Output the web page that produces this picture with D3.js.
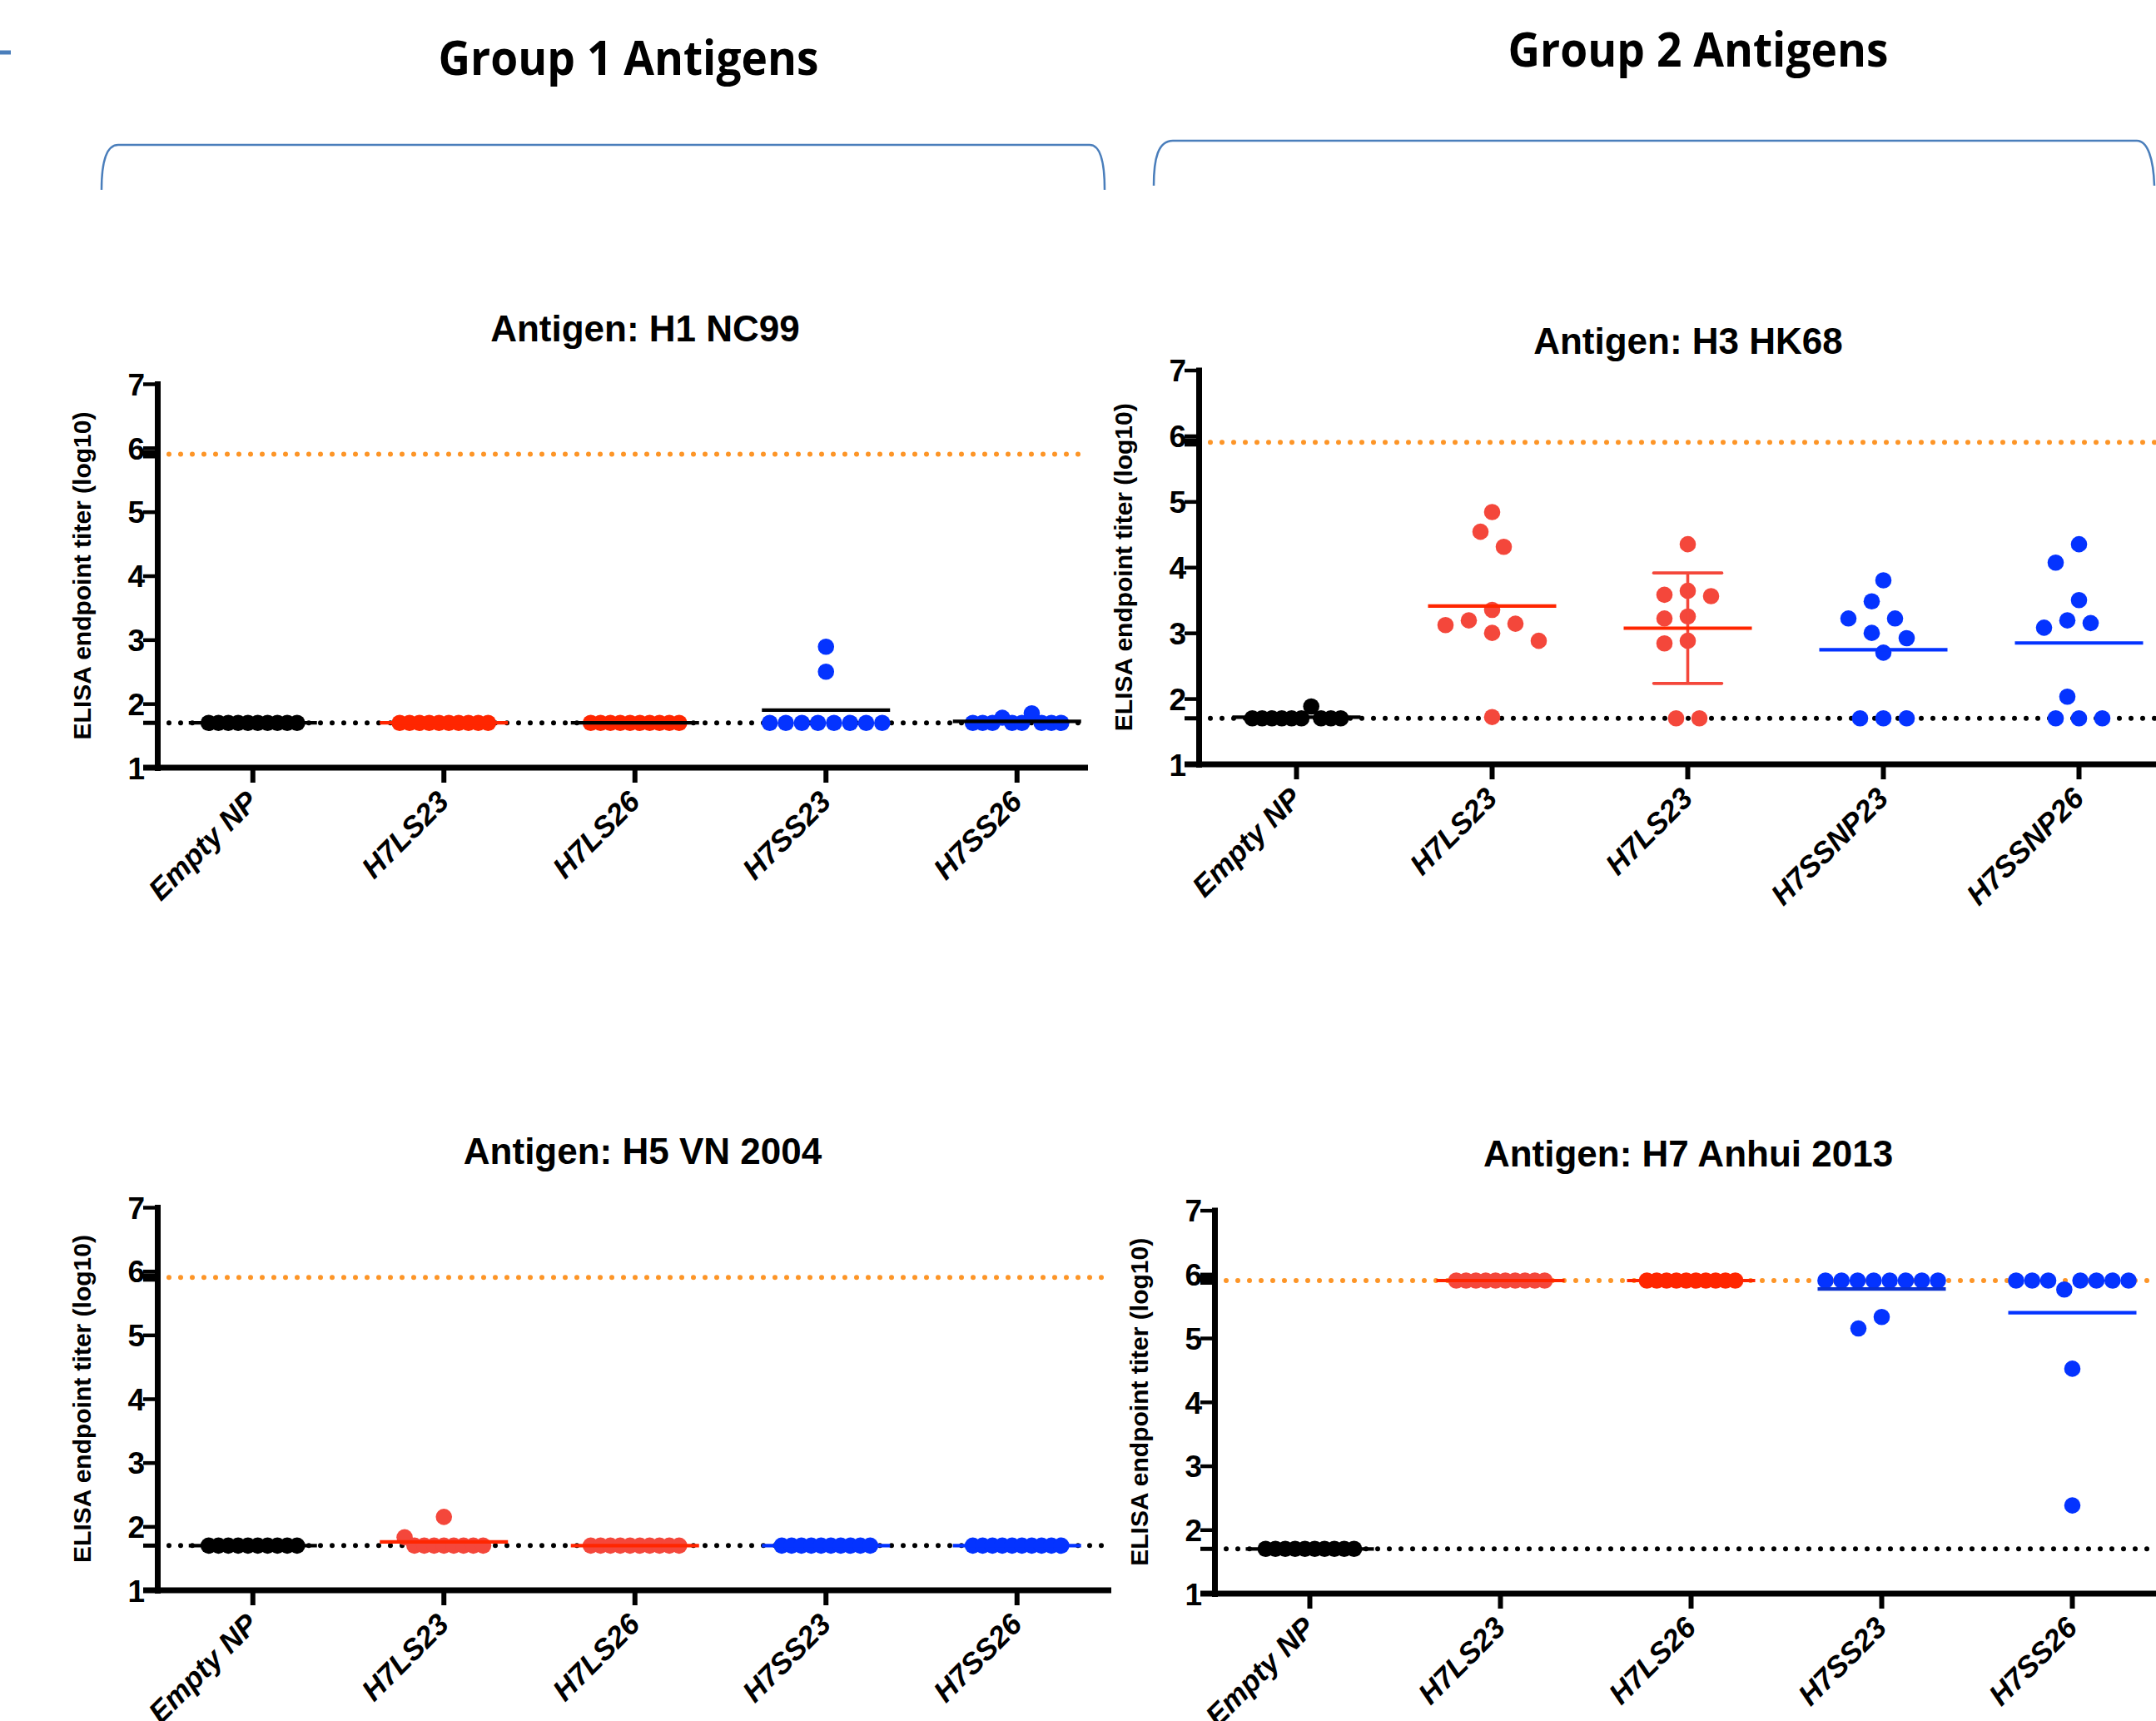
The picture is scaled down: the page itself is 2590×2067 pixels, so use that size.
<!DOCTYPE html>
<html>
<head>
<meta charset="utf-8">
<script src="https://cdn.jsdelivr.net/npm/d3@7"></script>
<style>
  body { margin: 0; background: #fff; }
  svg text { font-family: "Liberation Sans", Arial, sans-serif; font-weight: bold; }
</style>
</head>
<body>
<svg id="chart" width="2590" height="2067"></svg>
<script>
// ---- data (log10 ELISA endpoint titers, 10 mice per group) ----
var lowerLimit = 1.7;   // limit of detection
var upperLimit = 5.9;   // highest dilution tested

var yTicks = [1, 2, 3, 4, 5, 6, 7];

var groupsH1 = ["Empty NP", "H7LS23", "H7LS26", "H7SS23", "H7SS26"];
var groupsH3 = ["Empty NP", "H7LS23", "H7LS23", "H7SSNP23", "H7SSNP26"];
var groupsH5 = ["Empty NP", "H7LS23", "H7LS26", "H7SS23", "H7SS26"];
var groupsH7 = ["Empty NP", "H7LS23", "H7LS26", "H7SS23", "H7SS26"];

var titersH1 = [
    [1.7, 1.7, 1.7, 1.7, 1.7, 1.7, 1.7, 1.7, 1.7, 1.7],
    [1.7, 1.7, 1.7, 1.7, 1.7, 1.7, 1.7, 1.7, 1.7, 1.7],
    [1.7, 1.7, 1.7, 1.7, 1.7, 1.7, 1.7, 1.7, 1.7, 1.7],
    [1.7, 1.7, 1.7, 1.7, 1.7, 1.7, 1.7, 1.7, 2.89, 2.5],
    [1.7, 1.7, 1.7, 1.78, 1.7, 1.7, 1.85, 1.7, 1.7, 1.7]
];
var titersH3 = [
    [1.7, 1.7, 1.7, 1.7, 1.7, 1.7, 1.88, 1.7, 1.7, 1.7],
    [4.84, 4.54, 4.31, 3.35, 3.19, 3.14, 3.12, 3.0, 2.88, 1.72],
    [4.35, 3.64, 3.58, 3.56, 3.25, 3.22, 2.88, 2.84, 1.7, 1.7],
    [3.8, 3.48, 3.22, 3.22, 3.0, 2.92, 2.7, 1.7, 1.7, 1.7],
    [4.35, 4.07, 3.5, 3.19, 3.15, 3.08, 2.03, 1.7, 1.7, 1.7]
];
var titersH5 = [
    [1.7, 1.7, 1.7, 1.7, 1.7, 1.7, 1.7, 1.7, 1.7, 1.7],
    [1.83, 1.7, 1.7, 1.7, 1.7, 1.7, 1.7, 1.7, 1.7, 2.15],
    [1.7, 1.7, 1.7, 1.7, 1.7, 1.7, 1.7, 1.7, 1.7, 1.7],
    [1.7, 1.7, 1.7, 1.7, 1.7, 1.7, 1.7, 1.7, 1.7, 1.7],
    [1.7, 1.7, 1.7, 1.7, 1.7, 1.7, 1.7, 1.7, 1.7, 1.7]
];
var titersH7 = [
    [1.7, 1.7, 1.7, 1.7, 1.7, 1.7, 1.7, 1.7, 1.7, 1.7],
    [5.9, 5.9, 5.9, 5.9, 5.9, 5.9, 5.9, 5.9, 5.9, 5.9],
    [5.9, 5.9, 5.9, 5.9, 5.9, 5.9, 5.9, 5.9, 5.9, 5.9],
    [5.9, 5.9, 5.9, 5.9, 5.9, 5.9, 5.9, 5.9, 5.33, 5.15],
    [5.9, 5.9, 5.9, 5.76, 5.9, 5.9, 5.9, 5.9, 4.52, 2.38]
];

// colours
var black = "#000", red = "#ff2600", tomato = "#f4473b", blue = "#0433ff", orange = "#fd9527";
var bracketBlue = "#4a7ebb";

var svg = d3.select("#chart");
svg.append("rect").attr("width", 2590).attr("height", 2067).attr("fill", "#fff");

// group headings with their brackets
svg.append("line").attr("x1", 0).attr("x2", 13).attr("y1", 63).attr("y2", 63)
    .attr("stroke", bracketBlue).attr("stroke-width", 5);

[["Group 1 Antigens", 755, 90], ["Group 2 Antigens", 2040, 80]].forEach(function (h) {
    svg.append("text").attr("x", h[1]).attr("y", h[2]).attr("text-anchor", "middle")
        .attr("textLength", 457).attr("lengthAdjust", "spacingAndGlyphs")
        .style("font-family", "'Open Sans', Lato, sans-serif").style("font-weight", "700")
        .style("font-size", "57px")
        .text(h[0]);
});

svg.append("path")
    .attr("d", "M122,228 C122,196 127,174 142,174 L1309,174 C1322,174 1327,196 1327,228")
    .attr("fill", "none").attr("stroke", bracketBlue).attr("stroke-width", 2.5);
svg.append("path")
    .attr("d", "M1386,223 C1386,191 1391,169 1409,169 L2567,169 C2580,169 2587,191 2588,223")
    .attr("fill", "none").attr("stroke", bracketBlue).attr("stroke-width", 2.5);

// panel layout (pixel placement of each graph)
var panels = [
    { title: "Antigen: H1 NC99", groups: groupsH1, titers: titersH1,
      dotColours: [black, red, red, blue, blue], meanColours: [black, red, black, black, black],
      sd: [false, false, false, false, false],
      axisX: 189, y7: 461, y1: 922, step: 229.5, xEnd: 1307, titleX: 775, titleY: 410 },
    { title: "Antigen: H3 HK68", groups: groupsH3, titers: titersH3,
      dotColours: [black, tomato, tomato, blue, blue], meanColours: [black, red, red, blue, blue],
      sd: [false, false, true, false, false],
      axisX: 1440, y7: 444.5, y1: 918, step: 235, xEnd: 2600, titleX: 2028, titleY: 425 },
    { title: "Antigen: H5 VN 2004", groups: groupsH5, titers: titersH5,
      dotColours: [black, tomato, tomato, blue, blue], meanColours: [black, red, red, blue, blue],
      sd: [false, false, false, false, false],
      axisX: 189, y7: 1450, y1: 1910, step: 229.5, xEnd: 1335, titleX: 772, titleY: 1398 },
    { title: "Antigen: H7 Anhui 2013", groups: groupsH7, titers: titersH7,
      dotColours: [black, tomato, red, blue, blue], meanColours: [black, red, red, "#0a30d0", blue],
      sd: [false, false, false, false, false],
      axisX: 1459, y7: 1453.6, y1: 1914, step: 229, xEnd: 2600, titleX: 2028, titleY: 1401 }
];

var dotR = 9.8;
var minDist = 27;   // clearance used when stacking scattered points
var halfStep = 14;

// GraphPad style scatter: tied values sit in one row, the rest are stacked around the centre
function rowSpacing(n) {
    if (n <= 3) return 28;
    if (n <= 8) return 19.3;
    return 11.8;   // long rows get squeezed
}

function swarmOffsets(vals, y) {
    var off = new Array(vals.length);
    var placed = [];
    var counts = d3.rollups(vals, function (v) { return v.length; }, function (d) { return d; });
    var mode = d3.greatest(counts, function (c) { return c[1]; });
    if (mode[1] > 1) {
        var row = d3.range(vals.length).filter(function (i) { return Math.abs(vals[i] - mode[0]) <= 0.2; });
        var s = rowSpacing(row.length);
        row.forEach(function (i, k) {
            off[i] = (k - (row.length - 1) / 2) * s;
            placed.push([off[i], y(vals[i])]);
        });
    }
    var rest = d3.range(vals.length)
        .filter(function (i) { return off[i] === undefined; })
        .sort(function (a, b) { return vals[b] - vals[a]; });
    rest.forEach(function (i) {
        var py = y(vals[i]);
        for (var k = 0; k < 40; k++) {
            var dx = (k % 2 ? -1 : 1) * Math.ceil(k / 2) * halfStep;
            var clear = placed.every(function (q) {
                return Math.hypot(q[0] - dx, q[1] - py) >= minDist;
            });
            if (clear) { off[i] = dx; break; }
        }
        placed.push([off[i], py]);
    });
    return off;
}

function drawPanel(p) {
    var g = svg.append("g");
    var y = d3.scaleLinear().domain([1, 7]).range([p.y1, p.y7]);
    var x = d3.scaleBand().domain(d3.range(p.groups.length))
        .range([p.axisX, p.axisX + p.step * p.groups.length]);
    var cx = function (i) { return x(i) + x.bandwidth() / 2; };

    // dotted reference lines
    [[upperLimit, orange], [lowerLimit, black]].forEach(function (r) {
        g.append("line")
            .attr("x1", p.axisX).attr("x2", p.xEnd - 6)
            .attr("y1", y(r[0])).attr("y2", y(r[0]))
            .attr("stroke", r[1]).attr("stroke-width", 6)
            .attr("stroke-dasharray", "0 14").attr("stroke-linecap", "round");
    });

    // x axis
    g.append("line")
        .attr("x1", p.axisX - 17).attr("x2", p.xEnd)
        .attr("y1", y(1)).attr("y2", y(1))
        .attr("stroke", black).attr("stroke-width", 7);

    var gx = g.append("g")
        .attr("transform", "translate(0," + y(1) + ")")
        .call(d3.axisBottom(x).tickSize(18).tickSizeOuter(0)
            .tickFormat(function (i) { return p.groups[i]; }));
    gx.select(".domain").remove();
    gx.selectAll(".tick line").attr("stroke-width", 6);
    gx.selectAll(".tick text")
        .attr("x", null).attr("y", null).attr("dy", null)
        .attr("transform", "translate(8,43) rotate(-45)")
        .style("text-anchor", "end")
        .style("font-size", "35.5px").style("font-style", "italic").style("font-weight", "bold")
        .style("font-family", "'Liberation Sans', Arial, sans-serif");

    // y axis
    var gy = g.append("g")
        .attr("transform", "translate(" + p.axisX + ",0)")
        .call(d3.axisLeft(y).tickValues(yTicks).tickSize(17).tickSizeOuter(0).tickPadding(-2)
            .tickFormat(d3.format("d")));
    gy.attr("font-size", null).attr("font-family", null);
    gy.select(".domain").attr("stroke-width", 7).attr("stroke-linecap", "square");
    gy.selectAll(".tick line").attr("stroke-width", 4.5);
    gy.selectAll(".tick text")
        .attr("dy", "0.36em")
        .style("font-size", "37px").style("font-weight", "bold")
        .style("font-family", "'Liberation Sans', Arial, sans-serif");
    [[upperLimit, 10], [lowerLimit, 5]].forEach(function (r) {
        gy.append("line").attr("x1", -17).attr("x2", 0)
            .attr("y1", y(r[0])).attr("y2", y(r[0]))
            .attr("stroke", black).attr("stroke-width", r[1]);
    });

    g.append("text")
        .attr("transform", "translate(" + (p.axisX - 80) + "," + ((p.y7 + p.y1) / 2) + ") rotate(-90)")
        .attr("text-anchor", "middle")
        .style("font-size", "30px")
        .text("ELISA endpoint titer (log10)");

    // title
    g.append("text")
        .attr("x", p.titleX).attr("y", p.titleY)
        .attr("text-anchor", "middle")
        .style("font-size", "44px")
        .text(p.title);

    // points, means and SD bars
    p.titers.forEach(function (vals, i) {
        var off = swarmOffsets(vals, y);
        g.append("g").selectAll("circle")
            .data(vals)
            .enter().append("circle")
            .attr("cx", function (d, j) { return cx(i) + off[j]; })
            .attr("cy", function (d) { return y(d); })
            .attr("r", dotR)
            .attr("fill", p.dotColours[i]);

        var m = d3.mean(vals);
        if (p.sd[i]) {
            var s = d3.deviation(vals);
            var bar = g.append("g").attr("stroke", tomato).attr("stroke-width", 3.6);
            bar.append("line").attr("x1", cx(i)).attr("x2", cx(i)).attr("y1", y(m - s)).attr("y2", y(m + s));
            [m - s, m + s].forEach(function (v) {
                bar.append("line").attr("x1", cx(i) - 41).attr("x2", cx(i) + 41)
                    .attr("y1", y(v)).attr("y2", y(v)).attr("stroke-linecap", "round");
            });
        }
        g.append("line")
            .attr("x1", cx(i) - 77).attr("x2", cx(i) + 77)
            .attr("y1", y(m)).attr("y2", y(m))
            .attr("stroke", p.meanColours[i]).attr("stroke-width", 4.2);
    });
}

panels.forEach(drawPanel);
</script>
</body>
</html>
